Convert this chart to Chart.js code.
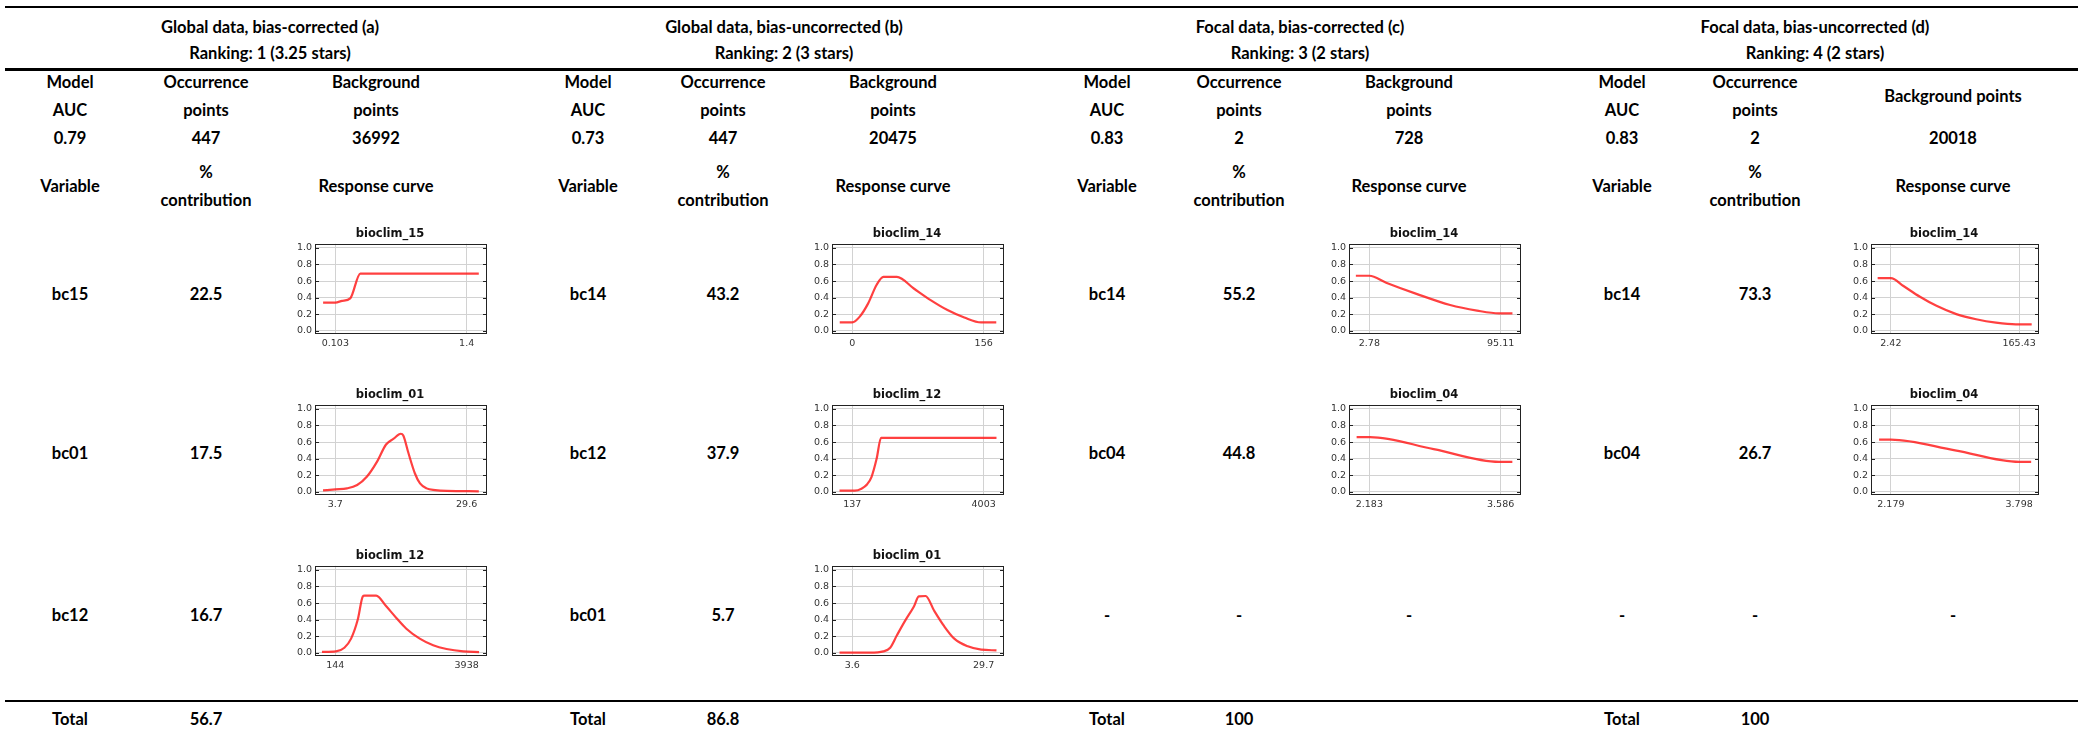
<!DOCTYPE html>
<html>
<head>
<meta charset="utf-8">
<script src="https://cdn.jsdelivr.net/npm/chart.js@4.4.1/dist/chart.umd.min.js"></script>
<style>
  body { margin: 0; background: #fff; width: 2083px; height: 730px; overflow: hidden; position: relative; }
  .t { position: absolute; transform: translate(-50%, -50%); white-space: nowrap;
       font-family: Lato, "Liberation Sans", sans-serif; font-weight: bold; font-size: 16.5px; color: #000; }
  .rule { position: absolute; left: 5px; width: 2073px; background: #000; }
  canvas { position: absolute; }
</style>
</head>
<body>
<script>
// table text
const panelTitles = ["Global data, bias-corrected (a)", "Global data, bias-uncorrected (b)", "Focal data, bias-corrected (c)", "Focal data, bias-uncorrected (d)"];
const rankings = ["Ranking: 1 (3.25 stars)", "Ranking: 2 (3 stars)", "Ranking: 3 (2 stars)", "Ranking: 4 (2 stars)"];
const modelAUC = ["0.79", "0.73", "0.83", "0.83"];
const occurrencePoints = ["447", "447", "2", "2"];
const backgroundPoints = ["36992", "20475", "728", "20018"];
const variables = [["bc15", "bc01", "bc12"], ["bc14", "bc12", "bc01"], ["bc14", "bc04", "-"], ["bc14", "bc04", "-"]];
const contributions = [["22.5", "17.5", "16.7"], ["43.2", "37.9", "5.7"], ["55.2", "44.8", "-"], ["73.3", "26.7", "-"]];
const totals = ["56.7", "86.8", "100", "100"];

// response curves: [x, response]
const a_bio15 = [[-0.018,0.34],[0.103,0.34],[0.17,0.36],[0.25,0.39],[0.35,0.69],[1.52,0.69]];
const a_bio01 = [[1.27,0.016],[3.7,0.028],[6.0,0.04],[8.0,0.08],[9.9,0.18],[11.9,0.36],[13.7,0.57],[15.2,0.64],[16.6,0.70],[17.1,0.68],[18.1,0.47],[19.4,0.22],[20.4,0.10],[21.7,0.04],[23.4,0.02],[25.7,0.01],[32.0,0.005]];
const a_bio12 = [[-243,0.01],[163,0.016],[405,0.06],[599,0.17],[792,0.40],[938,0.68],[986,0.69],[1325,0.69],[1615,0.56],[1906,0.42],[2196,0.29],[2583,0.17],[2970,0.09],[3357,0.045],[3841,0.016],[4296,0.008]];
const b_bio14 = [[-15,0.10],[0,0.10],[8.8,0.17],[18.8,0.33],[28.9,0.555],[36.9,0.65],[52.9,0.65],[73,0.51],[93,0.37],[113,0.25],[133,0.16],[153,0.10],[171,0.10]];
const b_bio12 = [[-241,0.012],[207,0.012],[405,0.036],[574,0.09],[703,0.18],[853,0.40],[982,0.65],[4381,0.65]];
const b_bio01 = [[1.05,0],[7.09,0],[9.77,0.016],[11.12,0.06],[12.46,0.21],[14.13,0.39],[15.81,0.555],[16.82,0.68],[18.16,0.685],[19.84,0.51],[21.85,0.32],[23.86,0.17],[26.55,0.077],[29.23,0.036],[32.25,0.028]];
const c_bio14 = [[-6.7,0.664],[2.78,0.664],[14.6,0.58],[35.9,0.445],[59.6,0.31],[78.5,0.243],[93.9,0.21],[103.4,0.21]];
const c_bio04 = [[2.047,0.66],[2.19,0.66],[2.87,0.514],[3.568,0.36],[3.711,0.36]];
const d_bio14 = [[-14.4,0.636],[2.42,0.636],[18.4,0.54],[39.4,0.41],[60.4,0.30],[85.6,0.20],[110.8,0.138],[136,0.097],[161.2,0.077],[181.4,0.077]];
const d_bio04 = [[2.03,0.63],[2.18,0.63],[2.99,0.50],[3.798,0.36],[3.95,0.36]];

const curves = [[a_bio15, a_bio01, a_bio12], [b_bio14, b_bio12, b_bio01], [c_bio14, c_bio04, null], [d_bio14, d_bio04, null]];
const curveTitles = [["bioclim_15", "bioclim_01", "bioclim_12"], ["bioclim_14", "bioclim_12", "bioclim_01"], ["bioclim_14", "bioclim_04", null], ["bioclim_14", "bioclim_04", null]];
const xTickLabels = [
  [["0.103", "1.4"], ["3.7", "29.6"], ["144", "3938"]],
  [["0", "156"], ["137", "4003"], ["3.6", "29.7"]],
  [["2.78", "95.11"], ["2.183", "3.586"], null],
  [["2.42", "165.43"], ["2.179", "3.798"], null]
];
const yTicks = [0, 0.2, 0.4, 0.6, 0.8, 1.0];

// layout
const colX = [[70, 206, 376], [588, 723, 893], [1107, 1239, 1409], [1622, 1755, 1953]];
const headX = [270, 784, 1300, 1815];
const boxLeft = [315, 832, 1349, 1871];
const boxW = [172, 172, 172, 168];
const rowBoxTop = [244, 405, 566];
const rowY = [294, 453, 615];

function text(str, x, y) {
  const d = document.createElement("div");
  d.className = "t";
  d.textContent = str;
  d.style.left = x + "px";
  d.style.top = y + "px";
  document.body.appendChild(d);
}
function rule(y, h) {
  const d = document.createElement("div");
  d.className = "rule";
  d.style.top = y + "px";
  d.style.height = h + "px";
  document.body.appendChild(d);
}

rule(6, 2);
rule(68, 3);
rule(700, 2);

for (let p = 0; p < 4; p++) {
  const [cm, co, cb] = colX[p];
  text(panelTitles[p], headX[p], 27);
  text(rankings[p], headX[p], 53);
  text("Model", cm, 82); text("AUC", cm, 110);
  text("Occurrence", co, 82); text("points", co, 110);
  if (p < 3) { text("Background", cb, 82); text("points", cb, 110); }
  else text("Background points", cb, 96);
  text(modelAUC[p], cm, 138);
  text(occurrencePoints[p], co, 138);
  text(backgroundPoints[p], cb, 138);
  text("Variable", cm, 186);
  text("%", co, 172); text("contribution", co, 200);
  text("Response curve", cb, 186);
  for (let r = 0; r < 3; r++) {
    text(variables[p][r], cm, rowY[r]);
    text(contributions[p][r], co, rowY[r]);
    if (!curves[p][r]) text("-", cb, rowY[r]);
  }
  text("Total", cm, 719);
  text(totals[p], co, 719);
}

// frame with inward ticks, like the Maxent plots
const framePlugin = {
  id: "frame",
  afterDraw(chart) {
    const { ctx, chartArea: a, scales } = chart;
    ctx.save();
    ctx.strokeStyle = "#222";
    ctx.lineWidth = 1;
    ctx.strokeRect(Math.round(a.left) + 0.5, Math.round(a.top) + 0.5, Math.round(a.width) - 1, Math.round(a.height) - 1);
    ctx.beginPath();
    yTicks.forEach(v => {
      const y = Math.round(scales.y.getPixelForValue(v)) + 0.5;
      ctx.moveTo(a.left, y); ctx.lineTo(a.left + 4, y);
      ctx.moveTo(a.right - 4, y); ctx.lineTo(a.right, y);
    });
    ctx.stroke();
    ctx.restore();
  }
};

const TITLE_H = 16.8, XAXIS_H = 18, YAXIS_W = 22, PAD_R = 8;

for (let p = 0; p < 4; p++) {
  for (let r = 0; r < 3; r++) {
    const pts = curves[p][r];
    if (!pts) continue;
    const labels = xTickLabels[p][r];
    const tv = labels.map(Number);
    const span = tv[1] - tv[0];
    const cv = document.createElement("canvas");
    const w = YAXIS_W + boxW[p] + PAD_R;
    const h = Math.round(TITLE_H + 90 + XAXIS_H);
    cv.width = w; cv.height = h;
    cv.style.left = (boxLeft[p] - YAXIS_W) + "px";
    cv.style.top = (rowBoxTop[r] - TITLE_H) + "px";
    document.body.appendChild(cv);

    new Chart(cv, {
      type: "line",
      data: {
        datasets: [{
          data: pts.map(q => ({ x: q[0], y: q[1] })),
          borderColor: "rgba(255,30,30,0.85)",
          borderWidth: 2.2,
          pointRadius: 0,
          cubicInterpolationMode: "monotone",
          fill: false
        }]
      },
      options: {
        responsive: false,
        animation: false,
        devicePixelRatio: 1,
        layout: { padding: { left: 0, right: PAD_R, top: 0, bottom: 0 } },
        plugins: {
          legend: { display: false },
          tooltip: { enabled: false },
          title: {
            display: true,
            text: curveTitles[p][r],
            color: "#111",
            font: { family: "DejaVu Sans", size: 11.5, weight: "bold" },
            padding: { top: 0, bottom: 3 }
          }
        },
        scales: {
          x: {
            type: "linear",
            min: tv[0] - 0.155 * span,
            max: tv[1] + 0.155 * span,
            afterBuildTicks: s => { s.ticks = tv.map(v => ({ value: v })); },
            afterFit: s => { s.height = XAXIS_H; },
            ticks: {
              callback: (v, i) => labels[i],
              color: "#333",
              font: { family: "DejaVu Sans", size: 9.5 },
              padding: 4,
              maxRotation: 0,
              autoSkip: false
            },
            grid: { color: "#d2d2d2", drawTicks: false },
            border: { display: false }
          },
          y: {
            min: -0.04,
            max: 1.05,
            afterBuildTicks: s => { s.ticks = yTicks.map(v => ({ value: v })); },
            afterFit: s => { s.width = YAXIS_W; },
            ticks: {
              callback: v => v.toFixed(1),
              color: "#333",
              font: { family: "DejaVu Sans", size: 9.5 },
              padding: 3
            },
            grid: { color: "#d2d2d2", drawTicks: false },
            border: { display: false }
          }
        }
      },
      plugins: [framePlugin]
    });
  }
}
</script>
</body>
</html>
